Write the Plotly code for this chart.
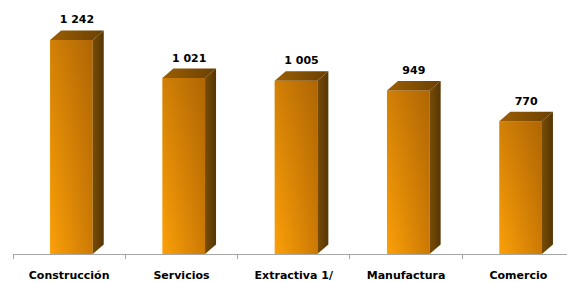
import plotly.graph_objects as go

categories = ["Construcción", "Servicios", "Extractiva 1/", "Manufactura", "Comercio"]
values = [1242, 1021, 1005, 949, 770]
value_labels = ["1 242", "1 021", "1 005", "949", "770"]

# 3D styling constants (in axis units)
HALF_W = 0.19
SHIFT = 0.02
DX = 0.098
DY = 55
LABEL_GAP = 25

FRONT_CS = [[0, "rgb(252,160,8)"], [1, "rgb(204,122,4)"]]
FRONT_SHADE = [[0, "rgba(120,60,0,0)"], [1, "rgba(110,55,0,0.30)"]]
SIDE_CS = [[0, "rgb(120,76,6)"], [1, "rgb(86,54,4)"]]
TOP_CS = [[0, "rgb(156,94,4)"], [1, "rgb(105,64,2)"]]

fig = go.Figure()
for i, v in enumerate(values):
    c = i + SHIFT
    xl, xr = c - HALF_W, c + HALF_W
    fig.add_trace(go.Scatter(
        x=[xl, xr, xr, xl, xl], y=[0, 0, v, v, 0], mode="none", fill="toself",
        fillgradient=dict(type="horizontal", colorscale=FRONT_CS),
        hoverinfo="skip", showlegend=False))
    fig.add_trace(go.Scatter(
        x=[xl, xr, xr, xl, xl], y=[0, 0, v, v, 0], mode="none", fill="toself",
        fillgradient=dict(type="vertical", colorscale=FRONT_SHADE),
        hoverinfo="skip", showlegend=False))
    fig.add_trace(go.Scatter(
        x=[xr, xr + DX, xr + DX, xr, xr], y=[0, DY, v + DY, v, 0], mode="none", fill="toself",
        fillgradient=dict(type="horizontal", colorscale=SIDE_CS),
        hoverinfo="skip", showlegend=False))
    fig.add_trace(go.Scatter(
        x=[xl, xl + DX, xr + DX, xr, xl], y=[v, v + DY, v + DY, v, v], mode="none", fill="toself",
        fillgradient=dict(type="horizontal", colorscale=TOP_CS),
        hoverinfo="skip", showlegend=False))

fig.add_trace(go.Scatter(
    x=[i + SHIFT + DX / 2 for i in range(len(values))],
    y=[v + DY + LABEL_GAP for v in values],
    mode="text", text=value_labels, textposition="top center",
    textfont=dict(family="DejaVu Sans", size=11, color="black", weight="bold"),
    hoverinfo="skip", showlegend=False, cliponaxis=False))

n = len(categories)
fig.update_layout(
    width=567, height=282,
    margin=dict(l=13, r=0, t=0, b=28, autoexpand=False),
    paper_bgcolor="white", plot_bgcolor="white",
    xaxis=dict(
        range=[-0.5, 4.433], tickmode="array", tickvals=list(range(n)), ticktext=categories,
        ticks="", showline=True, linecolor="#A6A6A6", linewidth=1, showgrid=False, zeroline=False,
        tickfont=dict(family="DejaVu Sans", size=11, color="black", weight="bold"),
        ticklabelstandoff=11, automargin=False,
        minor=dict(tickmode="array", tickvals=[k - 0.5 for k in range(n + 1)], ticks="outside",
                   ticklen=4, tickcolor="#A6A6A6", showgrid=False),
        fixedrange=True,
    ),
    yaxis=dict(range=[0, 1474], visible=False, fixedrange=True, automargin=False),
)

fig.write_html("out.html", config={"displayModeBar": False},
               post_script="document.body.style.margin='0';document.body.style.overflow='hidden';")
